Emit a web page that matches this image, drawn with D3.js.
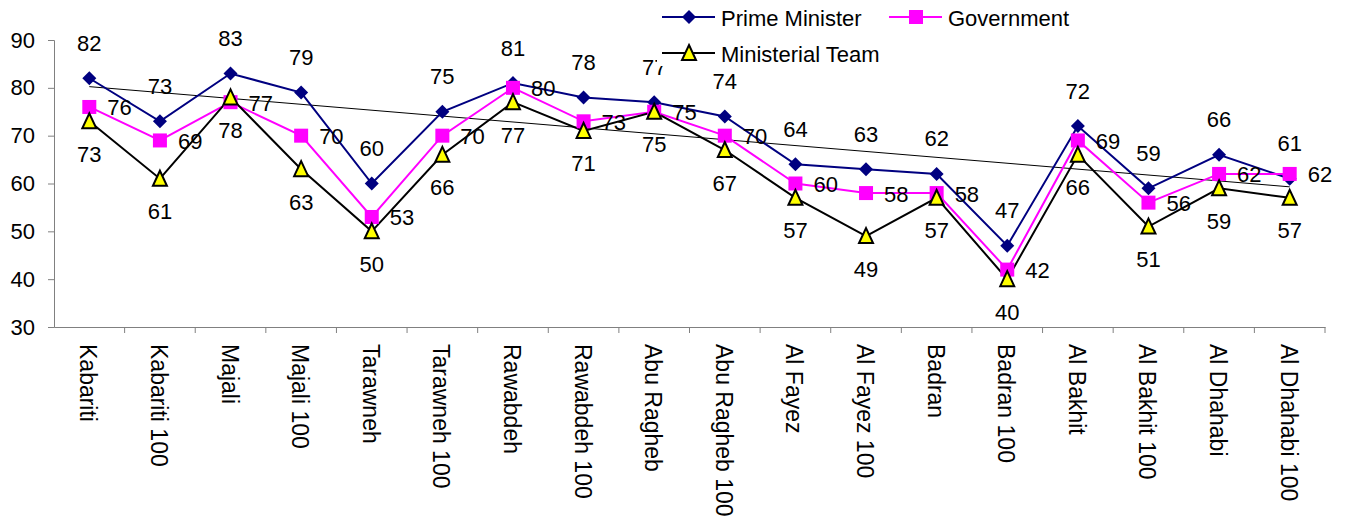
<!DOCTYPE html>
<html>
<head>
<meta charset="utf-8">
<script src="https://cdn.jsdelivr.net/npm/d3@7"></script>
<style>
  body { margin: 0; background: #fff; }
  svg { font-family: "Liberation Sans", Arial, sans-serif; }
</style>
</head>
<body>
<div id="chart"></div>
<script>
const categories = ["Kabariti", "Kabariti 100", "Majali", "Majali 100", "Tarawneh", "Tarawneh 100",
  "Rawabdeh", "Rawabdeh 100", "Abu Ragheb", "Abu Ragheb 100", "Al Fayez", "Al Fayez 100",
  "Badran", "Badran 100", "Al Bakhit", "Al Bakhit 100", "Al Dhahabi", "Al Dhahabi 100"]
const primeMinister = [82, 73, 83, 79, 60, 75, 81, 78, 77, 74, 64, 63, 62, 47, 72, 59, 66, 61]
const government = [76, 69, 77, 70, 53, 70, 80, 73, 75, 70, 60, 58, 58, 42, 69, 56, 62, 62]
const ministerialTeam = [73, 61, 78, 63, 50, 66, 77, 71, 75, 67, 57, 49, 57, 40, 66, 51, 59, 57]
const yTicks = [30, 40, 50, 60, 70, 80, 90]

const W = 1346, H = 523
const svg = d3.select("#chart").append("svg").attr("width", W).attr("height", H)

const x = d3.scaleBand().domain(categories).range([54, 1325])
const y = d3.scaleLinear().domain([30, 90]).range([327, 40])
const cx = c => x(c) + x.bandwidth() / 2

// axes
const yAxis = svg.append("g").attr("transform", "translate(54,0)")
  .call(d3.axisLeft(y).tickValues(yTicks).tickSize(6).tickPadding(13))
yAxis.selectAll("path,line").attr("stroke", "#808080")
yAxis.selectAll("text").attr("font-size", 22).attr("fill", "#000")
  .attr("font-family", "Liberation Sans, Arial, sans-serif")

const xAxis = svg.append("g").attr("transform", "translate(0,327)")
  .call(d3.axisBottom(x).tickSize(0).tickPadding(0))
xAxis.select(".domain").attr("stroke", "#808080")
xAxis.selectAll("text")
  .attr("font-size", 23).attr("fill", "#000")
  .attr("font-family", "Liberation Sans, Arial, sans-serif")
  .attr("text-anchor", "start")
  .attr("dy", null)
  .attr("dominant-baseline", "central")
  .attr("transform", "translate(-1,17) rotate(90)")
  .attr("y", 0)
xAxis.selectAll(".tick").each(function(d) {
  d3.select(this).append("line")
    .attr("x1", x.bandwidth() / 2).attr("x2", x.bandwidth() / 2)
    .attr("y1", 0).attr("y2", 6).attr("stroke", "#808080")
})

// linear trendline of Prime Minister
const n = primeMinister.length
const mx = d3.mean(primeMinister, (d, i) => i)
const my = d3.mean(primeMinister)
const slope = d3.sum(primeMinister, (d, i) => (i - mx) * (d - my)) / d3.sum(primeMinister, (d, i) => (i - mx) ** 2)
svg.append("line")
  .attr("x1", cx(categories[0])).attr("y1", y(my + slope * (0 - mx)))
  .attr("x2", cx(categories[n - 1])).attr("y2", y(my + slope * (n - 1 - mx)))
  .attr("stroke", "#000").attr("stroke-width", 1)

const series = [
  { name: "Prime Minister", values: primeMinister, color: "#000080", marker: "diamond" },
  { name: "Government", values: government, color: "#FF00FF", marker: "square" },
  { name: "Ministerial Team", values: ministerialTeam, color: "#000000", marker: "triangle" }
]

function drawMarker(g, type) {
  if (type === "diamond") {
    g.append("path").attr("d", "M0,-7L7,0L0,7L-7,0Z").attr("fill", "#000080")
  } else if (type === "square") {
    g.append("rect").attr("x", -7).attr("y", -7).attr("width", 14).attr("height", 14).attr("fill", "#FF00FF")
  } else {
    g.append("path").attr("d", "M0,-8L7,7L-7,7Z").attr("fill", "#FFFF00")
      .attr("stroke", "#000").attr("stroke-width", 2).attr("stroke-linejoin", "miter")
  }
}

const line = d3.line().x((d, i) => cx(categories[i])).y(d => y(d))
series.forEach(s => {
  svg.append("path").datum(s.values)
    .attr("d", line).attr("fill", "none")
    .attr("stroke", s.color).attr("stroke-width", 2)
})
series.forEach(s => {
  s.values.forEach((v, i) => {
    const g = svg.append("g").attr("transform", `translate(${cx(categories[i])},${y(v)})`)
    drawMarker(g, s.marker)
  })
})

// data labels
const labelG = svg.append("g").attr("font-size", 22).attr("fill", "#000")
primeMinister.forEach((v, i) => {
  labelG.append("text").attr("x", cx(categories[i])).attr("y", y(v) - 35)
    .attr("text-anchor", "middle").attr("dominant-baseline", "central").text(v)
})
government.forEach((v, i) => {
  labelG.append("text").attr("x", cx(categories[i]) + 18).attr("y", y(v) + 1)
    .attr("text-anchor", "start").attr("dominant-baseline", "central").text(v)
})
ministerialTeam.forEach((v, i) => {
  labelG.append("text").attr("x", cx(categories[i])).attr("y", y(v) + 33)
    .attr("text-anchor", "middle").attr("dominant-baseline", "central").text(v)
})

// legend
const legend = svg.append("g")
legend.append("rect").attr("x", 657).attr("y", 0).attr("width", 440).attr("height", 66).attr("fill", "#fff")
const legendPos = [[662, 17], [889, 17], [662, 53]]
series.forEach((s, i) => {
  const [lx, ly] = legendPos[i]
  legend.append("line").attr("x1", lx).attr("x2", lx + 53).attr("y1", ly).attr("y2", ly)
    .attr("stroke", s.color).attr("stroke-width", 2)
  const g = legend.append("g").attr("transform", `translate(${lx + 27},${ly})`)
  drawMarker(g, s.marker)
  legend.append("text").attr("x", lx + 59).attr("y", ly + 1).attr("dominant-baseline", "central")
    .attr("font-size", 22).text(s.name)
})
</script>
</body>
</html>
